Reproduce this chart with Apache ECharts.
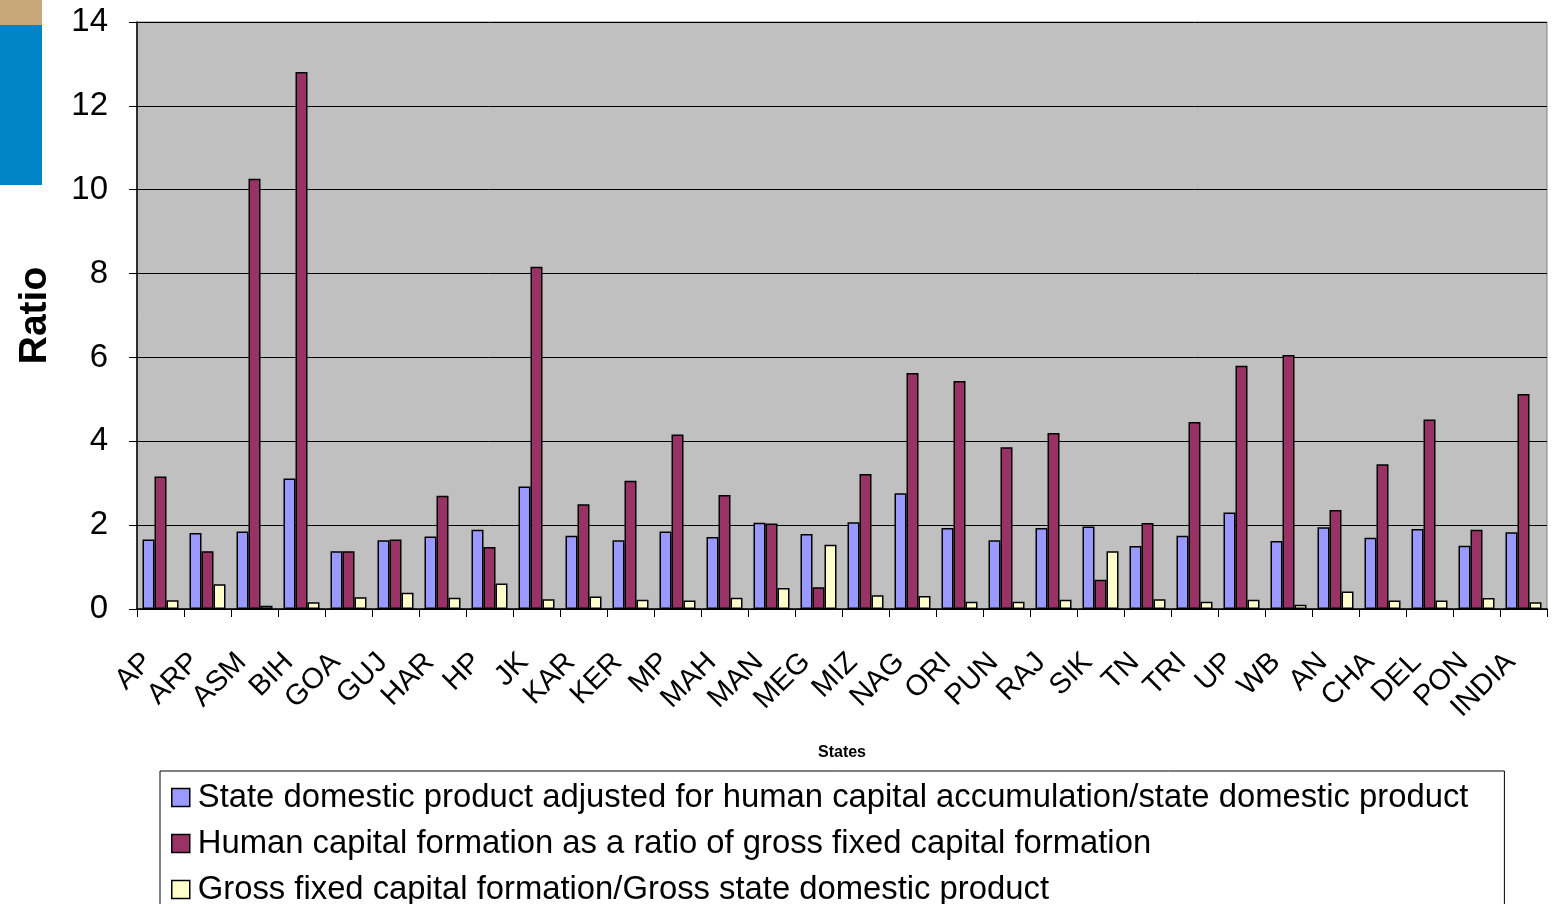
<!DOCTYPE html>
<html><head><meta charset="utf-8">
<script src="https://cdn.jsdelivr.net/npm/echarts@6/dist/echarts.min.js"></script>
<style>html,body{margin:0;padding:0;background:#fff;}#c{width:1558px;height:904px;}</style>
</head><body><div id="c"></div>
<script>
const categories = ["AP","ARP","ASM","BIH","GOA","GUJ","HAR","HP","JK","KAR","KER","MP","MAH","MAN","MEG","MIZ","NAG","ORI","PUN","RAJ","SIK","TN","TRI","UP","WB","AN","CHA","DEL","PON","INDIA"];
const sdpAdjusted = [1.66,1.81,1.85,3.11,1.38,1.64,1.73,1.89,2.92,1.75,1.64,1.85,1.72,2.06,1.79,2.07,2.76,1.93,1.64,1.93,1.97,1.50,1.75,2.30,1.62,1.95,1.70,1.91,1.51,1.83];
const hcfRatio = [3.16,1.38,10.26,12.81,1.38,1.66,2.70,1.48,8.16,2.50,3.06,4.16,2.72,2.04,0.52,3.22,5.63,5.44,3.86,4.20,0.70,2.05,4.46,5.80,6.06,2.36,3.45,4.52,1.89,5.13];
const gfcfRatio = [0.21,0.59,0.08,0.16,0.28,0.39,0.27,0.61,0.23,0.30,0.22,0.20,0.27,0.50,1.53,0.33,0.31,0.17,0.17,0.22,1.38,0.23,0.17,0.22,0.10,0.42,0.20,0.20,0.26,0.16];
const seriesNames = [
  "State domestic product adjusted for human capital accumulation/state domestic product",
  "Human capital formation as a ratio of gross fixed capital formation",
  "Gross fixed capital formation/Gross state domestic product"
];
const colors = ["#9999FF","#993366","#FFFFCC"];
const yTicks = {min:0, max:14, interval:2};

const chart = echarts.init(document.getElementById('c'));
const font = "Liberation Sans, Arial, sans-serif";
const mk = (name, data, color) => ({
  name, type:'bar', data, barWidth:12, barGap:'0%',
  itemStyle:{color, borderColor:'#000', borderWidth:1.5},
  emphasis:{disabled:true}
});
chart.setOption({
  animation:false,
  textStyle:{fontFamily:font},
  graphic:[
    {type:'rect', shape:{x:0,y:25,width:42,height:160}, style:{fill:'#0085C8'}},
    {type:'rect', shape:{x:0,y:0,width:42,height:25}, style:{fill:'#C8A878'}}
  ],
  grid:{left:137, top:22, width:1410, height:587, show:true, backgroundColor:'#C0C0C0', borderColor:'#808080', borderWidth:1},
  legend:{
    orient:'vertical', left:160, top:771, height:300,
    itemWidth:18, itemHeight:18, itemGap:13,
    padding:[10,36,20,11],
    borderColor:'#000', borderWidth:1, backgroundColor:'#fff',
    textStyle:{fontSize:32.8, lineHeight:33, fontFamily:font, color:'#000', padding:[0,0,0,3]},
    icon:'rect',
    itemStyle:{borderColor:'#000', borderWidth:1.5},
    data:seriesNames
  },
  xAxis:{
    type:'category', data:categories,
    name:'States', nameLocation:'middle', nameGap:136,
    nameTextStyle:{fontSize:16, fontWeight:'bold', color:'#000', fontFamily:font},
    axisLine:{lineStyle:{color:'#000', width:1.5}},
    axisTick:{show:true, alignWithLabel:false, length:8, lineStyle:{color:'#000'}},
    axisLabel:{rotate:45, fontSize:29, color:'#000', margin:36, interval:0, fontFamily:font, padding:[0,18,0,0]}
  },
  yAxis:{
    type:'value', min:yTicks.min, max:yTicks.max, interval:yTicks.interval,
    name:'Ratio', nameLocation:'middle', nameGap:82,
    nameTextStyle:{fontSize:39, fontWeight:'bold', color:'#000', fontFamily:font},
    axisLine:{show:true, lineStyle:{color:'#000', width:1.5}},
    axisTick:{show:true, length:8, lineStyle:{color:'#000'}},
    axisLabel:{fontSize:33, color:'#000', margin:29, fontFamily:font},
    splitLine:{lineStyle:{color:'#000', width:1}}
  },
  series:[mk(seriesNames[0], sdpAdjusted, colors[0]), mk(seriesNames[1], hcfRatio, colors[1]), mk(seriesNames[2], gfcfRatio, colors[2])]
});
</script></body></html>
